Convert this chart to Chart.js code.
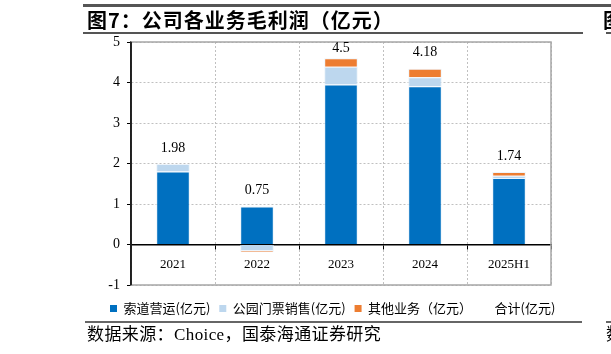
<!DOCTYPE html>
<html>
<head>
<meta charset="utf-8">
<script src="https://cdn.jsdelivr.net/npm/chart.js@4.4.1/dist/chart.umd.min.js"></script>
<style>
  html, body { margin: 0; padding: 0; background: #fff; }
  #wrap { position: relative; width: 611px; height: 354px; overflow: hidden; }
  #chart { position: absolute; left: 0; top: 0; }
  .line { position: absolute; background: #555; }
  .title { position: absolute; left: 87px; top: 5px; font: bold 20px "Noto Sans CJK SC", sans-serif; letter-spacing: 1px; color: #000; white-space: nowrap; }
  .source { position: absolute; left: 87px; top: 320px; font: 17px "Liberation Serif", "Noto Sans CJK SC", serif; letter-spacing: 0.4px; color: #000; white-space: nowrap; }
</style>
</head>
<body>
<div id="wrap">
  <canvas id="chart" width="611" height="354"></canvas>
  <div class="line" style="left:83px; top:4px; width:528px; height:3px;"></div>
  <div class="title">图7：公司各业务毛利润（亿元）</div>
  <div class="line" style="left:83px; top:32px; width:500px; height:1.5px;"></div>
  <div class="title" style="left:603px;">图</div>
  <div class="line" style="left:606px; top:32px; width:5px; height:1.5px;"></div>
  <div class="line" style="left:85px; top:321px; width:497px; height:1.5px; background:#666;"></div>
  <div class="line" style="left:606px; top:321px; width:5px; height:1.5px; background:#666;"></div>
  <div class="source">数据来源：Choice，国泰海通证券研究</div>
  <div class="source" style="left:606px;">数</div>
</div>
<script>
const categories = ["2021", "2022", "2023", "2024", "2025H1"];
const cableway = [1.80, 0.94, 3.95, 3.91, 1.64];
const parkTickets = [0.19, -0.16, 0.44, 0.22, 0.06];
const otherBiz = [0.00, -0.03, 0.21, 0.21, 0.09];
const totals = [1.98, 0.75, 4.5, 4.18, 1.74];
const yTicks = [-1, 0, 1, 2, 3, 4, 5];

const serif = "'Liberation Serif', 'Times New Roman', serif";

const framePlugin = {
  id: "frame",
  beforeDatasetsDraw(chart) {
    const { ctx, chartArea: a } = chart;
    ctx.save();
    ctx.strokeStyle = "#a6a6a6";
    ctx.lineWidth = 1.5;
    ctx.strokeRect(a.left, a.top, a.right - a.left, a.bottom - a.top);
    ctx.strokeStyle = "#000";
    ctx.beginPath();
    ctx.moveTo(a.left, a.top);
    ctx.lineTo(a.left, a.bottom);
    ctx.stroke();
    ctx.restore();
  }
};

const totalLabels = {
  id: "totalLabels",
  afterDatasetsDraw(chart) {
    const { ctx, scales: { x, y }, chartArea } = chart;
    ctx.save();
    ctx.font = "14px " + serif;
    ctx.fillStyle = "#000";
    ctx.textAlign = "center";
    ctx.textBaseline = "middle";
    totals.forEach((t, i) => {
      const top = [cableway, parkTickets, otherBiz].reduce((s, arr) => s + Math.max(arr[i], 0), 0);
      const py = Math.max(y.getPixelForValue(top) - 16, chartArea.top + 6);
      ctx.fillText(String(t), x.getPixelForValue(i), py);
    });
    ctx.restore();
  }
};

const barStyle = { borderColor: "rgba(235,243,251,0.9)", borderWidth: 1, barPercentage: 0.4, categoryPercentage: 1, stack: "s" };

new Chart(document.getElementById("chart"), {
  data: {
    labels: categories,
    datasets: [
      { type: "bar", label: "索道营运(亿元)", data: cableway, backgroundColor: "#0070C0", ...barStyle },
      { type: "bar", label: "公园门票销售(亿元)", data: parkTickets, backgroundColor: "#BDD7EE", ...barStyle },
      { type: "bar", label: "其他业务（亿元）", data: otherBiz, backgroundColor: "#ED7D31", ...barStyle },
      { type: "line", label: "合计(亿元)", data: totals, stack: "t", showLine: false, pointRadius: 0, borderColor: "rgba(0,0,0,0)", backgroundColor: "rgba(0,0,0,0)" }
    ]
  },
  options: {
    responsive: false,
    animation: false,
    layout: { padding: { left: 101, right: 0, top: 42, bottom: 29 } },
    plugins: {
      tooltip: { enabled: false },
      legend: {
        position: "bottom",
        align: "start",
        labels: {
          boxWidth: 7,
          boxHeight: 7,
          padding: 9,
          color: "#333",
          font: { family: "'Noto Sans CJK SC', sans-serif", size: 13 },
          generateLabels(chart) {
            return chart.data.datasets.map((d, i) => ({
              text: d.label,
              fillStyle: d.type === "line" ? "rgba(0,0,0,0)" : d.backgroundColor,
              strokeStyle: "rgba(0,0,0,0)",
              lineWidth: 0,
              datasetIndex: i
            }));
          }
        }
      }
    },
    scales: {
      x: {
        stacked: true,
        position: { y: 0 },
        offset: true,
        grid: { offset: true, color: "#c0c0c0", tickLength: 4, tickColor: "#000", tickBorderDash: [] },
        border: { display: true, color: "#000", width: 1.5, dash: [2, 2] },
        ticks: { color: "#000", padding: 8, font: { family: serif, size: 13 } }
      },
      xb: {
        type: "category",
        position: "bottom",
        display: true,
        afterFit(s) { s.height = 8; },
        grid: { display: false },
        border: { display: false },
        ticks: { display: false }
      },
      y: {
        stacked: true,
        min: -1,
        max: 5,
        afterFit(s) { s.width = 30; },
        afterBuildTicks(s) { s.ticks = yTicks.map(v => ({ value: v })); },
        grid: { color: "#c0c0c0", tickLength: 4, tickColor: "#000", tickBorderDash: [] },
        border: { display: true, color: "#000", width: 1.5, dash: [2, 2] },
        ticks: { color: "#000", padding: 7, font: { family: serif, size: 14 } }
      },
      yr: {
        position: "right",
        display: true,
        afterFit(s) { s.width = 60; },
        grid: { display: false },
        border: { display: false },
        ticks: { display: false }
      }
    }
  },
  plugins: [framePlugin, totalLabels]
});
</script>
</body>
</html>
